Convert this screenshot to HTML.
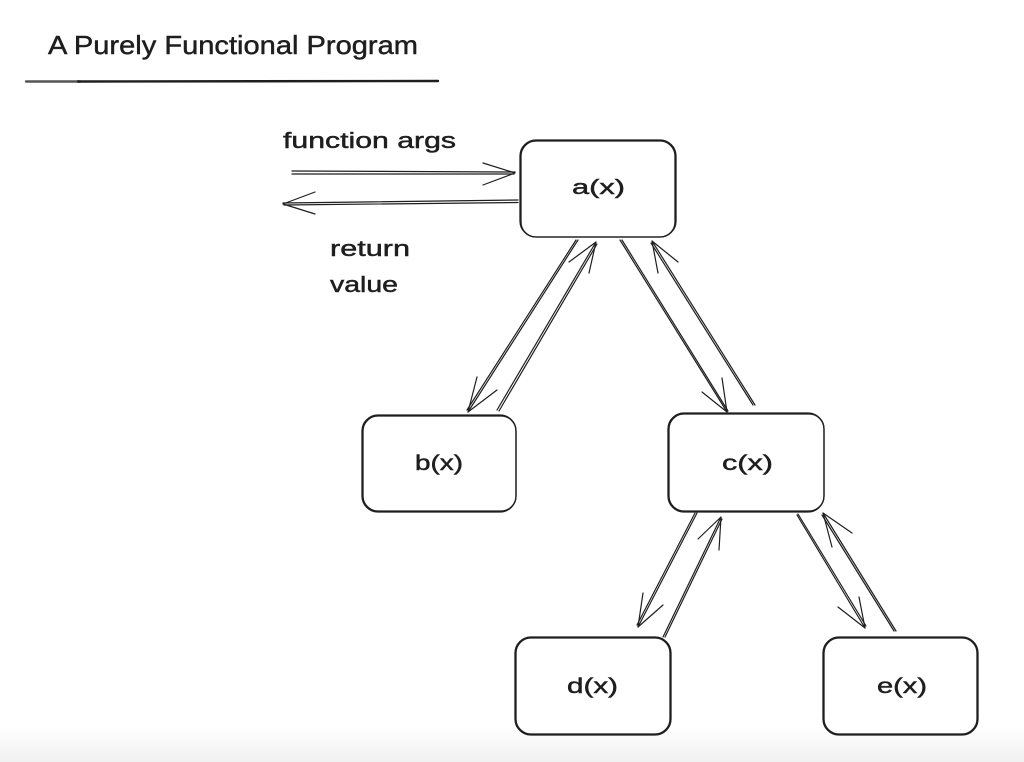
<!DOCTYPE html>
<html>
<head>
<meta charset="utf-8">
<style>
  html,body{margin:0;padding:0;background:#fff;}
  body{width:1024px;height:762px;overflow:hidden;position:relative;}
  .band{position:absolute;left:0;top:726px;width:1024px;height:36px;background:linear-gradient(#ffffff,#f1f1f1);}
  svg{position:absolute;left:0;top:0;}
  text{font-family:"Liberation Sans",sans-serif;fill:#1e1e1e;stroke:#1e1e1e;stroke-width:0.45;}
</style>
</head>
<body>
<div class="band"></div>
<svg width="1024" height="762" viewBox="0 0 1024 762" xmlns="http://www.w3.org/2000/svg">
  <g fill="none" stroke="#1e1e1e" stroke-linecap="round" stroke-linejoin="round">
    <!-- title underline -->
    <line x1="26" y1="81.5" x2="80" y2="81.5" stroke-width="2.4" stroke="#555"/>
    <line x1="78" y1="81.5" x2="438" y2="81" stroke-width="2.4"/>

    <!-- boxes (double sketch strokes) -->
    <g stroke-width="1.3">
      <rect x="520" y="140" width="156" height="97" rx="16"/>
      <rect x="521" y="141" width="154" height="96" rx="15"/>
      <rect x="362" y="415" width="154" height="97" rx="16"/>
      <rect x="363" y="416" width="153" height="95" rx="15"/>
      <rect x="668" y="413" width="156" height="99" rx="16"/>
      <rect x="669" y="414" width="155" height="97" rx="15"/>
      <rect x="515" y="637" width="156" height="98" rx="16"/>
      <rect x="516" y="638" width="154" height="96" rx="15"/>
      <rect x="823" y="637" width="155" height="98" rx="16"/>
      <rect x="824" y="638" width="153" height="96" rx="15"/>
    </g>

    <!-- arrows -->
    <g stroke-width="1.2">
      <!-- function args -->
      <line x1="292" y1="171" x2="515" y2="172"/>
      <line x1="292" y1="174" x2="514" y2="174"/>
      <polyline points="483,163 515,173 483,185"/>
      <!-- return value -->
      <line x1="518" y1="200" x2="283" y2="203"/>
      <line x1="518" y1="202.5" x2="284" y2="205"/>
      <polyline points="315,192 283,204 315,214"/>

      <!-- a -> b -->
      <line x1="578" y1="240" x2="468" y2="412"/>
      <line x1="576" y1="240" x2="467" y2="410"/>
      <polyline points="477,377 468,412 497,390"/>
      <!-- b -> a -->
      <line x1="497" y1="410" x2="596" y2="242"/>
      <line x1="499" y1="411" x2="597" y2="244"/>
      <polyline points="569,262 596,242 589,273"/>
      <!-- a -> c -->
      <line x1="620" y1="240" x2="727" y2="412"/>
      <line x1="622" y1="240" x2="728" y2="411"/>
      <polyline points="702,392 727,412 722,378"/>
      <!-- c -> a -->
      <line x1="755" y1="405" x2="652" y2="241"/>
      <line x1="753" y1="405" x2="651" y2="243"/>
      <polyline points="678,262 652,241 658,273"/>

      <!-- c -> d -->
      <line x1="697" y1="513" x2="638" y2="627"/>
      <line x1="695" y1="513" x2="637" y2="625"/>
      <polyline points="643,593 638,627 663,605"/>
      <!-- d -> c -->
      <line x1="663" y1="637" x2="721" y2="517"/>
      <line x1="665" y1="637" x2="722" y2="519"/>
      <polyline points="698,539 721,517 719,550"/>
      <!-- c -> e -->
      <line x1="797" y1="515" x2="865" y2="628"/>
      <line x1="798" y1="514" x2="866" y2="626"/>
      <polyline points="838,607 865,628 859,597"/>
      <!-- e -> c -->
      <line x1="896" y1="631" x2="823" y2="513"/>
      <line x1="894" y1="631" x2="822" y2="515"/>
      <polyline points="832,547 823,513 852,533"/>
    </g>
  </g>

  <!-- text -->
  <text x="48" y="54" font-size="26" textLength="370" lengthAdjust="spacingAndGlyphs">A Purely Functional Program</text>
  <text x="283" y="148" font-size="22" textLength="173" lengthAdjust="spacingAndGlyphs">function args</text>
  <text x="330" y="256" font-size="22" textLength="80" lengthAdjust="spacingAndGlyphs">return</text>
  <text x="330" y="292" font-size="22" textLength="68" lengthAdjust="spacingAndGlyphs">value</text>

  <text x="572" y="194" font-size="20" textLength="53" lengthAdjust="spacingAndGlyphs">a(x)</text>
  <text x="415" y="470" font-size="21" textLength="48" lengthAdjust="spacingAndGlyphs">b(x)</text>
  <text x="722" y="470" font-size="21" textLength="51" lengthAdjust="spacingAndGlyphs">c(x)</text>
  <text x="567" y="693" font-size="21" textLength="51" lengthAdjust="spacingAndGlyphs">d(x)</text>
  <text x="877" y="693" font-size="21" textLength="50" lengthAdjust="spacingAndGlyphs">e(x)</text>
</svg>
</body>
</html>
